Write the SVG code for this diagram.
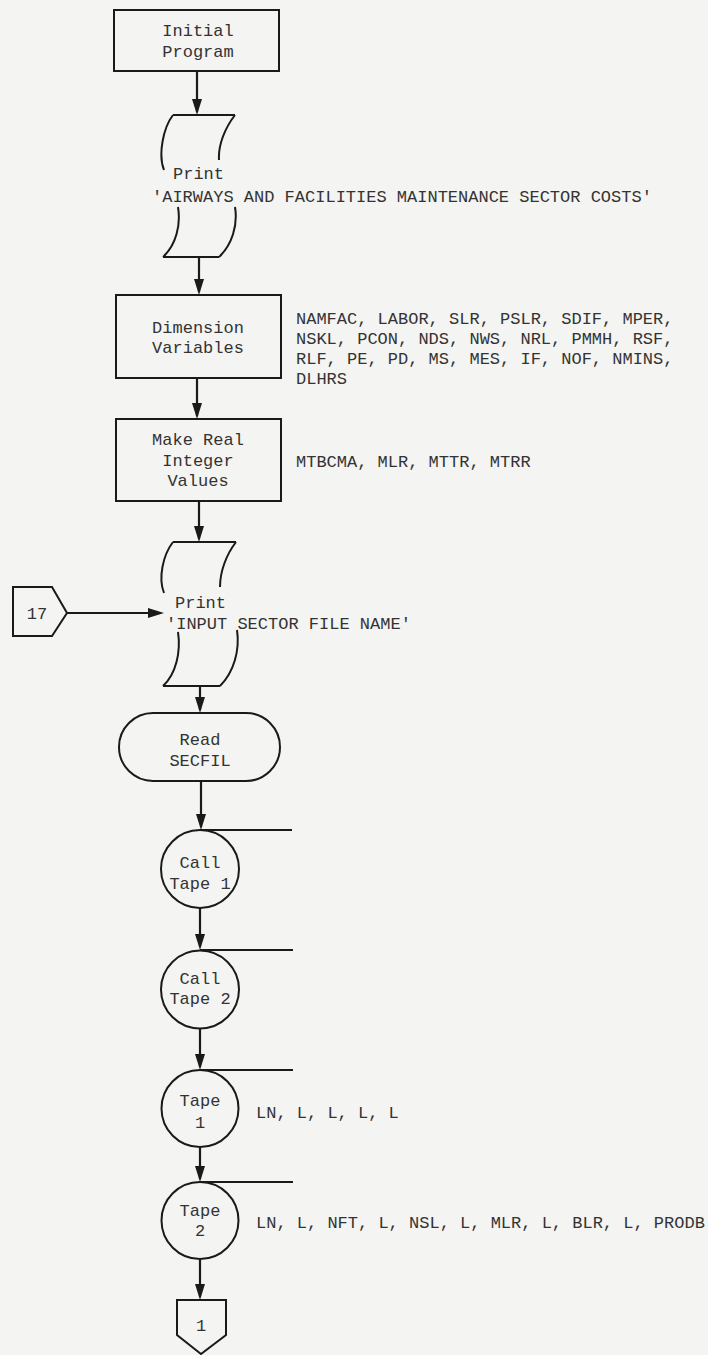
<svg xmlns="http://www.w3.org/2000/svg" width="708" height="1355" viewBox="0 0 708 1355">
<style>
.bg{fill:#f4f4f2}
.shape{fill:none;stroke:#1a1a1a;stroke-width:2}
.box{fill:#f4f4f2;stroke:#1a1a1a;stroke-width:2}
.conn{fill:none;stroke:#1a1a1a;stroke-width:2.2}
text{font-family:"Liberation Mono","DejaVu Sans Mono",monospace;font-size:17px;fill:#333}
.c{text-anchor:middle}
</style>
<defs>
<marker id="ah" markerUnits="userSpaceOnUse" markerWidth="16" markerHeight="10" viewBox="0 0 16 10" refX="13" refY="5" orient="auto">
<path d="M0,0 L16,5 L0,10 Z" fill="#1a1a1a"/>
</marker>
</defs>
<rect class="bg" x="0" y="0" width="708" height="1355"/>

<g id="connectors">
<line class="conn" x1="197" y1="71" x2="197" y2="112" marker-end="url(#ah)"/>
<line class="conn" x1="199" y1="257" x2="199" y2="292" marker-end="url(#ah)"/>
<line class="conn" x1="197" y1="378" x2="197" y2="416" marker-end="url(#ah)"/>
<line class="conn" x1="199" y1="501" x2="199" y2="539" marker-end="url(#ah)"/>
<line class="conn" x1="200" y1="686" x2="200" y2="710" marker-end="url(#ah)"/>
<line class="conn" x1="201" y1="781" x2="201" y2="827" marker-end="url(#ah)"/>
<line class="conn" x1="200" y1="908" x2="200" y2="947" marker-end="url(#ah)"/>
<line class="conn" x1="200" y1="1029" x2="200" y2="1067" marker-end="url(#ah)"/>
<line class="conn" x1="200" y1="1147" x2="200" y2="1179" marker-end="url(#ah)"/>
<line class="conn" x1="200" y1="1259" x2="200" y2="1297" marker-end="url(#ah)"/>
<line class="conn" x1="67" y1="613" x2="161" y2="613" marker-end="url(#ah)"/>
</g>

<g id="initial-program">
<rect class="box" x="114" y="10" width="165" height="61"/>
<text class="c" x="198" y="36">Initial</text>
<text class="c" x="198" y="57">Program</text>
</g>

<g id="print-title">
<path class="shape" d="M173,115 L235,115 M173,115 C163,128 158,155 164,170 M235,115 C225,128 218,145 219,160 M178,207 C181,225 176,245 163,257 M235,207 C238,225 232,245 219,257 M163,257 L219,257"/>
<text x="173" y="179">Print</text>
<text x="152" y="202">'AIRWAYS AND FACILITIES MAINTENANCE SECTOR COSTS'</text>
</g>

<g id="dimension-variables">
<rect class="box" x="116" y="295" width="165" height="83"/>
<text class="c" x="198" y="333">Dimension</text>
<text class="c" x="198" y="353">Variables</text>
<text x="296" y="324">NAMFAC, LABOR, SLR, PSLR, SDIF, MPER,</text>
<text x="296" y="344">NSKL, PCON, NDS, NWS, NRL, PMMH, RSF,</text>
<text x="296" y="364">RLF, PE, PD, MS, MES, IF, NOF, NMINS,</text>
<text x="296" y="384">DLHRS</text>
</g>

<g id="make-real">
<rect class="box" x="116" y="419" width="165" height="82"/>
<text class="c" x="198" y="445">Make Real</text>
<text class="c" x="198" y="466">Integer</text>
<text class="c" x="198" y="486">Values</text>
<text x="296" y="467">MTBCMA, MLR, MTTR, MTRR</text>
</g>

<g id="connector-17">
<path class="box" d="M13,587 L52,587 L67,613 L52,636 L13,636 Z"/>
<text class="c" x="37" y="619">17</text>
</g>

<g id="print-input">
<path class="shape" d="M173,542 L236,542 M173,542 C163,555 158,578 164,593 M236,542 C226,555 220,572 220,587 M178,632 C181,652 176,674 163,686 M237,630 C240,650 234,672 220,686 M163,686 L220,686"/>
<text x="175" y="608">Print</text>
<text x="166" y="629">'INPUT SECTOR FILE NAME'</text>
</g>

<g id="read-secfil">
<rect class="box" x="119" y="713" width="161" height="68" rx="34" ry="34"/>
<text class="c" x="200" y="745">Read</text>
<text class="c" x="200" y="766">SECFIL</text>
</g>

<g id="call-tape-1">
<line class="shape" x1="200" y1="830" x2="292" y2="830"/>
<circle class="box" cx="200" cy="869" r="39"/>
<text class="c" x="200" y="868">Call</text>
<text class="c" x="200" y="889">Tape 1</text>
</g>

<g id="call-tape-2">
<line class="shape" x1="200" y1="950" x2="293" y2="950"/>
<circle class="box" cx="200" cy="989.5" r="39"/>
<text class="c" x="200" y="984">Call</text>
<text class="c" x="200" y="1004">Tape 2</text>
</g>

<g id="tape-1">
<line class="shape" x1="200" y1="1070" x2="293" y2="1070"/>
<circle class="box" cx="200" cy="1108.5" r="38.5"/>
<text class="c" x="200" y="1106">Tape</text>
<text class="c" x="200" y="1128">1</text>
<text x="256" y="1118">LN, L, L, L, L</text>
</g>

<g id="tape-2">
<line class="shape" x1="200" y1="1182" x2="293" y2="1182"/>
<circle class="box" cx="200" cy="1220.5" r="38.5"/>
<text class="c" x="200" y="1216">Tape</text>
<text class="c" x="200" y="1236">2</text>
<text x="256" y="1228">LN, L, NFT, L, NSL, L, MLR, L, BLR, L, PRODB</text>
</g>

<g id="offpage-1">
<path class="box" d="M177,1300 L226,1300 L226,1335 L201,1354 L177,1335 Z"/>
<text class="c" x="201" y="1331">1</text>
</g>
</svg>
